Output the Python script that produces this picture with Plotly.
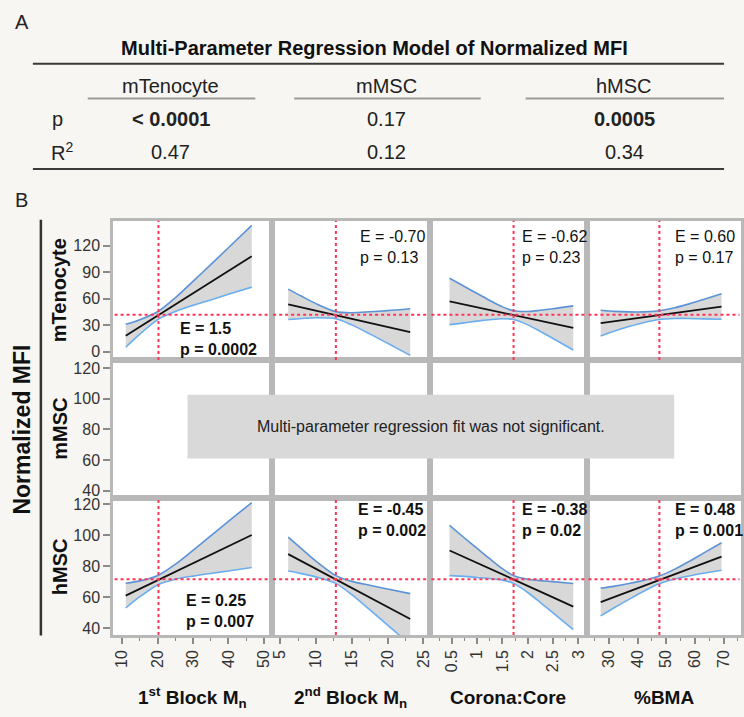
import plotly.graph_objects as go

W, H = 744, 717

# ---------------- Panel A: table data ----------------
table_title = "Multi-Parameter Regression Model of Normalized MFI"
cell_types = ["mTenocyte", "mMSC", "hMSC"]
model_p = ["< 0.0001", "0.17", "0.0005"]
model_p_bold = [True, False, True]
model_r2 = ["0.47", "0.12", "0.34"]

# ---------------- Panel B: profiler data ----------------
factor_labels = ["1<sup>st</sup> Block M<sub>n</sub>", "2<sup>nd</sup> Block M<sub>n</sub>",
                 "Corona:Core", "%BMA"]
row_labels = ["mTenocyte", "mMSC", "hMSC"]
x_ranges = [[7.4, 52.2], [3.8, 25.9], [0.065, 3.17], [22.3, 76.1]]
x_tick0 = [10, 5, 0.5, 30]
x_dticks = [10, 5, 0.5, 10]
x_minor = [5, 2.5, 0.25, 5]
y_ranges = [[-9.6, 148.2], [35.5, 125.2], [35.7, 124.3]]
y_dticks = [30, 20, 20]
x_means = [20.25, 12.78, 1.72, 47.6]
y_means = [41.7, None, 71.6]

block1_x = [11, 15, 20.25, 25, 30, 35, 40, 46.6]
block2_x = [6.12, 8, 10, 12.78, 15, 17.5, 20, 23.16]
corona_x = [0.455, 0.75, 1.0, 1.25, 1.5, 1.72, 2.0, 2.25, 2.5, 2.9]
bma_x = [27.1, 32, 37, 42, 47.5, 53, 58, 63, 69.3]

# mTenocyte
ten_block1_fit = [17.8, 27.9, 41.2, 53.2, 65.9, 78.5, 91.2, 108.0]
ten_block1_upper = [30.8, 36.1, 45.7, 60.9, 79.5, 98.5, 117.6, 143.0]
ten_block1_lower = [4.8, 19.7, 36.7, 45.5, 52.3, 58.5, 64.8, 73.0]
ten_block2_fit = [53.5, 50.0, 46.3, 41.2, 37.1, 32.5, 27.8, 22.0]
ten_block2_upper = [70.7, 62.6, 54.3, 45.2, 44.0, 45.0, 46.3, 48.4]
ten_block2_lower = [36.3, 37.4, 38.3, 37.2, 30.2, 20.0, 9.3, -4.4]
ten_corona_fit = [56.8, 53.1, 50.1, 47.0, 43.9, 41.2, 37.8, 34.7, 31.6, 26.7]
ten_corona_upper = [83.1, 73.7, 65.7, 57.9, 50.6, 46.2, 45.4, 46.7, 48.4, 51.7]
ten_corona_lower = [30.5, 32.5, 34.5, 36.1, 37.2, 36.2, 30.2, 22.7, 14.8, 1.7]
ten_bma_fit = [32.2, 34.4, 36.6, 38.8, 41.3, 43.7, 46.0, 48.2, 51.0]
ten_bma_upper = [46.7, 45.5, 44.9, 44.9, 46.3, 49.7, 54.0, 59.0, 65.5]
ten_bma_lower = [17.7, 23.3, 28.3, 32.7, 36.3, 37.5, 37.5, 37.0, 36.5]

# hMSC
h_block1_fit = [61.1, 65.5, 71.3, 76.5, 82.0, 87.5, 93.0, 100.2]
h_block1_upper = [69.1, 70.6, 74.3, 81.3, 90.3, 99.6, 109.0, 121.2]
h_block1_lower = [53.1, 60.4, 68.3, 71.7, 73.7, 75.4, 77.0, 79.2]
h_block2_fit = [87.9, 83.3, 78.3, 71.5, 66.0, 59.9, 53.7, 46.0]
h_block2_upper = [98.8, 91.3, 83.4, 74.0, 70.3, 67.8, 65.4, 62.4]
h_block2_lower = [77.0, 75.3, 73.2, 69.0, 61.7, 52.0, 42.0, 29.6]
h_corona_fit = [90.2, 85.9, 82.2, 78.5, 74.8, 71.5, 67.4, 63.7, 60.0, 54.0]
h_corona_upper = [106.4, 98.3, 91.6, 84.9, 78.5, 74.0, 71.7, 70.8, 70.1, 68.9]
h_corona_lower = [74.0, 73.5, 72.8, 72.1, 71.1, 69.0, 63.1, 56.6, 49.9, 39.1]
h_bma_fit = [56.9, 60.3, 63.8, 67.3, 71.2, 75.0, 78.5, 82.0, 86.3]
h_bma_upper = [65.8, 67.2, 68.9, 70.8, 73.7, 78.2, 83.2, 88.5, 95.2]
h_bma_lower = [48.0, 53.4, 58.7, 63.8, 68.7, 71.8, 73.8, 75.5, 77.5]

ten_E = ["1.5", "-0.70", "-0.62", "0.60"]
ten_p = ["0.0002", "0.13", "0.23", "0.17"]
ten_sig = [True, False, False, False]
h_E = ["0.25", "-0.45", "-0.38", "0.48"]
h_p = ["0.007", "0.002", "0.02", "0.001"]
h_sig = [True, True, True, True]
nonsig_note = "Multi-parameter regression fit was not significant."

# ---------------- styling ----------------
FONT = "Liberation Sans, Arial, sans-serif"
BG = "#f7f6f2"
FRAME = "#b8b8b8"
BLUE_UP = "#5b93d6"
BLUE_LO = "#6aaeee"
FILL = "#d8d8d8"
RED = "#ff3355"
col_px = [113.3, 272.3, 431.0, 588.5, 743.0]
row_px = [220.0, 360.0, 498.5, 636.5]


def fx(p):
    return p / W


def fy(p):
    return 1 - p / H


panels = {
    (0, 0): (block1_x, ten_block1_fit, ten_block1_upper, ten_block1_lower),
    (0, 1): (block2_x, ten_block2_fit, ten_block2_upper, ten_block2_lower),
    (0, 2): (corona_x, ten_corona_fit, ten_corona_upper, ten_corona_lower),
    (0, 3): (bma_x, ten_bma_fit, ten_bma_upper, ten_bma_lower),
    (2, 0): (block1_x, h_block1_fit, h_block1_upper, h_block1_lower),
    (2, 1): (block2_x, h_block2_fit, h_block2_upper, h_block2_lower),
    (2, 2): (corona_x, h_corona_fit, h_corona_upper, h_corona_lower),
    (2, 3): (bma_x, h_bma_fit, h_bma_upper, h_bma_lower),
}
stats = {0: (ten_E, ten_p, ten_sig), 2: (h_E, h_p, h_sig)}
stat_pos = {
    (0, 0): (0.407, 0.15), (0, 1): (0.546, 0.81), (0, 2): (0.571, 0.81), (0, 3): (0.558, 0.81),
    (2, 0): (0.445, 0.175), (2, 1): (0.532, 0.84), (2, 2): (0.571, 0.84), (2, 3): (0.558, 0.84),
}

fig = go.Figure()
layout = dict(width=W, height=H, margin=dict(l=0, r=0, t=0, b=0), autosize=False,
              paper_bgcolor=BG, plot_bgcolor="white", showlegend=False,
              font=dict(family=FONT, color="#222"))
shapes = []
annotations = []

for r in range(3):
    for c in range(4):
        k = r * 4 + c + 1
        xid = "x" if k == 1 else f"x{k}"
        yid = "y" if k == 1 else f"y{k}"
        xkey = "xaxis" if k == 1 else f"xaxis{k}"
        ykey = "yaxis" if k == 1 else f"yaxis{k}"
        bottom = r == 2
        layout[xkey] = dict(
            domain=[fx(col_px[c]), fx(col_px[c + 1])], range=x_ranges[c], anchor=yid,
            showline=True, mirror=True, linecolor=FRAME, linewidth=2.5,
            showgrid=False, zeroline=False,
            ticks="outside" if bottom else "", showticklabels=bottom,
            tick0=x_tick0[c], dtick=x_dticks[c], ticklen=6, tickwidth=1.5, tickcolor="#8a8a8a",
            tickangle=-90, tickfont=dict(size=16, color="#333"),
            minor=dict(dtick=x_minor[c], ticks="outside" if bottom else "", ticklen=3.5,
                       tickwidth=1.2, tickcolor="#8a8a8a", showgrid=False),
            fixedrange=True)
        layout[ykey] = dict(
            domain=[fy(row_px[r + 1]), fy(row_px[r])], range=y_ranges[r], anchor=xid,
            showline=True, mirror=True, linecolor=FRAME, linewidth=2.5,
            showgrid=False, zeroline=False,
            ticks="outside" if c == 0 else "", showticklabels=(c == 0),
            tick0=0, dtick=y_dticks[r], ticklen=7, tickwidth=1.5, tickcolor="#8a8a8a",
            tickfont=dict(size=16, color="#333"), fixedrange=True)

        if (r, c) in panels:
            xs, fit, up, lo = panels[(r, c)]
            fig.add_trace(go.Scatter(x=xs, y=up, xaxis=xid, yaxis=yid, mode="lines",
                                     line=dict(color=BLUE_UP, width=1.6, shape="spline", smoothing=0.8),
                                     hoverinfo="skip"))
            fig.add_trace(go.Scatter(x=xs, y=lo, xaxis=xid, yaxis=yid, mode="lines",
                                     line=dict(color=BLUE_LO, width=1.6, shape="spline", smoothing=0.8),
                                     fill="tonexty", fillcolor=FILL, hoverinfo="skip"))
            fig.add_trace(go.Scatter(x=xs, y=fit, xaxis=xid, yaxis=yid, mode="lines",
                                     line=dict(color="#111111", width=1.8), hoverinfo="skip"))
            # reference cross-hairs
            shapes.append(dict(type="line", xref=xid, yref=f"{yid} domain",
                               x0=x_means[c], x1=x_means[c], y0=0, y1=1,
                               line=dict(color=RED, width=2, dash="dot")))
            shapes.append(dict(type="line", xref=f"{xid} domain", yref=yid,
                               x0=0.01, x1=0.99, y0=y_means[r], y1=y_means[r],
                               line=dict(color=RED, width=2, dash="dot")))
            E, P, S = stats[r]
            txt = f"E = {E[c]}<br>p = {P[c]}"
            if S[c]:
                txt = f"<b>E = {E[c]}</b><br><b>p = {P[c]}</b>"
            ax, ay = stat_pos[(r, c)]
            annotations.append(dict(text=txt, xref=f"{xid} domain", yref=f"{yid} domain",
                                    x=ax, y=ay, xanchor="left", yanchor="middle", align="left",
                                    showarrow=False, font=dict(size=16, color="#111")))
        else:
            # empty subplot (mMSC row): register axes so frame and ticks are drawn
            fig.add_trace(go.Scatter(x=[], y=[], xaxis=xid, yaxis=yid, mode="lines",
                                     hoverinfo="skip"))

# grey note box in mMSC row
shapes.append(dict(type="rect", xref="paper", yref="paper", x0=fx(188), x1=fx(676),
                   y0=fy(459), y1=fy(395), fillcolor="#d9d9d9", line=dict(width=0), layer="above"))
annotations.append(dict(text=nonsig_note, xref="paper", yref="paper", x=fx(432), y=fy(427),
                        xanchor="center", yanchor="middle", showarrow=False,
                        font=dict(size=16, color="#222")))

# x-axis titles
for c in range(4):
    annotations.append(dict(text=f"<b>{factor_labels[c]}</b>", xref="paper", yref="paper",
                            x=fx((col_px[c] + col_px[c + 1]) / 2), y=fy(699),
                            xanchor="center", yanchor="middle", showarrow=False,
                            font=dict(size=19, color="#111")))
# row titles
for r in range(3):
    annotations.append(dict(text=f"<b>{row_labels[r]}</b>", xref="paper", yref="paper",
                            x=fx(60), y=fy((row_px[r] + row_px[r + 1]) / 2), textangle=-90,
                            xanchor="center", yanchor="middle", showarrow=False,
                            font=dict(size=20, color="#111")))
annotations.append(dict(text="<b>Normalized MFI</b>", xref="paper", yref="paper",
                        x=fx(22), y=fy(430), textangle=-90, xanchor="center", yanchor="middle",
                        showarrow=False, font=dict(size=23, color="#111")))
shapes.append(dict(type="line", xref="paper", yref="paper", x0=fx(41), x1=fx(41),
                   y0=fy(219), y1=fy(637), line=dict(color="#333", width=2.5)))

# panel letters
annotations.append(dict(text="A", xref="paper", yref="paper", x=fx(22), y=fy(20),
                        xanchor="center", yanchor="middle", showarrow=False,
                        font=dict(size=20, color="#222")))
annotations.append(dict(text="B", xref="paper", yref="paper", x=fx(22), y=fy(199),
                        xanchor="center", yanchor="middle", showarrow=False,
                        font=dict(size=20, color="#222")))

# ---------------- table ----------------
annotations.append(dict(text=f"<b>{table_title}</b>", xref="paper", yref="paper",
                        x=fx(376), y=fy(46), xanchor="center", yanchor="middle", showarrow=False,
                        font=dict(size=20, color="#111")))
shapes.append(dict(type="line", xref="paper", yref="paper", x0=fx(33), x1=fx(726),
                   y0=fy(62), y1=fy(62), line=dict(color="#3a3a3a", width=2)))
shapes.append(dict(type="line", xref="paper", yref="paper", x0=fx(33), x1=fx(726),
                   y0=fy(168), y1=fy(168), line=dict(color="#3a3a3a", width=2)))
col_centers = [171, 388, 626]
underlines = [(88, 256), (295, 482), (527, 726)]
for i in range(3):
    annotations.append(dict(text=cell_types[i], xref="paper", yref="paper",
                            x=fx(col_centers[i]), y=fy(84), xanchor="center", yanchor="middle",
                            showarrow=False, font=dict(size=20, color="#222")))
    shapes.append(dict(type="line", xref="paper", yref="paper",
                       x0=fx(underlines[i][0]), x1=fx(underlines[i][1]), y0=fy(97), y1=fy(97),
                       line=dict(color="#9a9a9a", width=2)))
    ptxt = f"<b>{model_p[i]}</b>" if model_p_bold[i] else model_p[i]
    annotations.append(dict(text=ptxt, xref="paper", yref="paper",
                            x=fx(col_centers[i]), y=fy(118), xanchor="center", yanchor="middle",
                            showarrow=False, font=dict(size=20, color="#222")))
    annotations.append(dict(text=model_r2[i], xref="paper", yref="paper",
                            x=fx(col_centers[i]), y=fy(151), xanchor="center", yanchor="middle",
                            showarrow=False, font=dict(size=20, color="#222")))
annotations.append(dict(text="p", xref="paper", yref="paper", x=fx(58), y=fy(118),
                        xanchor="center", yanchor="middle", showarrow=False,
                        font=dict(size=20, color="#222")))
annotations.append(dict(text="R<sup>2</sup>", xref="paper", yref="paper", x=fx(62), y=fy(150),
                        xanchor="center", yanchor="middle", showarrow=False,
                        font=dict(size=20, color="#222")))

layout["shapes"] = shapes
layout["annotations"] = annotations
fig.update_layout(**layout)

page_fix = ("document.documentElement.style.margin='0';document.body.style.margin='0';"
            "document.body.style.padding='0';document.body.style.overflow='hidden';"
            "document.documentElement.style.overflow='hidden';"
            "document.body.style.background='" + BG + "';")
fig.write_html("out.html", config={"displayModeBar": False}, post_script=page_fix)
